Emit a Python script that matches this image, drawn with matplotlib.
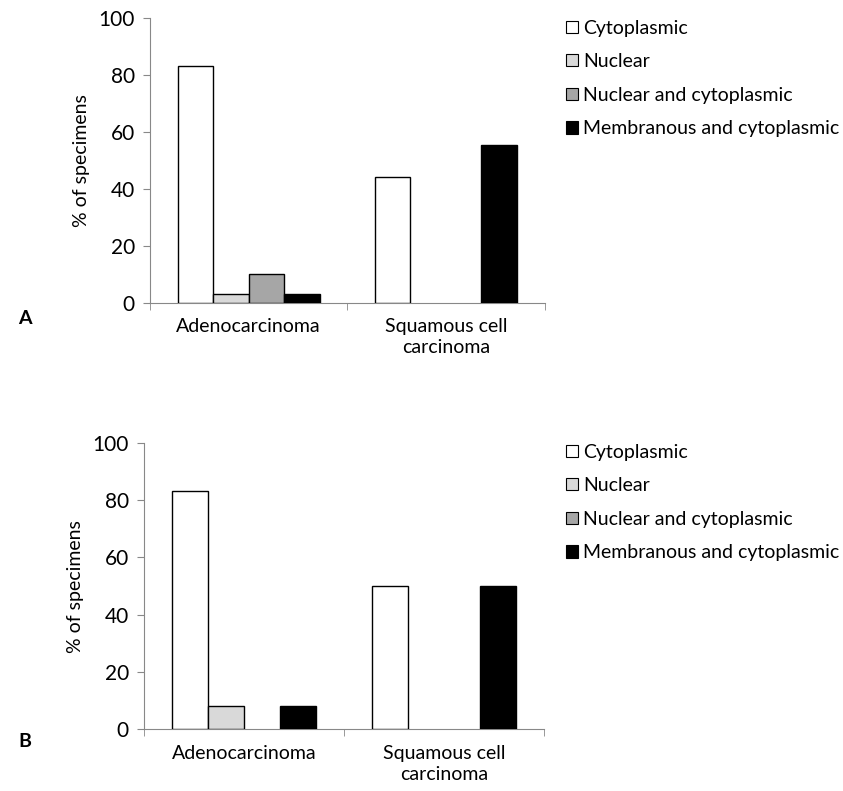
import numpy as np
import matplotlib.pyplot as plt
from matplotlib.patches import Patch

plt.rcParams['font.family'] = ['Lato', 'DejaVu Sans']

categories = ['Adenocarcinoma', 'Squamous cell\ncarcinoma']
series = ['Cytoplasmic', 'Nuclear', 'Nuclear and cytoplasmic', 'Membranous and cytoplasmic']
colors = ['white', '#d9d9d9', '#a6a6a6', 'black']

# panel A values (% of specimens)
a_cyto = [83.3, 44.4]
a_nuc = [3.3, 0]
a_nucyto = [10.0, 0]
a_memb = [3.3, 55.6]

# panel B values
b_cyto = [83.3, 50.0]
b_nuc = [8.3, 0]
b_nucyto = [0, 0]
b_memb = [8.3, 50.0]

fig = plt.figure(figsize=(8.43, 7.91), dpi=100)
axA = fig.add_axes([0.178, 0.617, 0.468, 0.36])
axB = fig.add_axes([0.171, 0.078, 0.474, 0.362])

def draw(ax, data):
    x = np.arange(len(categories)) + 0.5
    w = 0.18
    for i, vals in enumerate(data):
        vals = np.array(vals)
        pos = x + (i - 1.5) * w
        mask = vals > 0
        ax.bar(pos[mask], vals[mask], width=w, color=colors[i],
               edgecolor='black', linewidth=1, zorder=3)
    ax.set_xlim(0, 2)
    ax.set_ylim(0, 100)
    ax.set_yticks([0, 20, 40, 60, 80, 100])
    ax.set_xticks(x)
    ax.set_xticklabels(categories, fontsize=14, linespacing=1.3)
    ax.set_xticks([0, 1, 2], minor=True)
    ax.tick_params(axis='x', which='major', length=0, pad=11)
    ax.tick_params(axis='x', which='minor', length=5, color='#888888')
    ax.tick_params(axis='y', length=5, color='#888888', labelsize=15, pad=6)
    for s in ['top', 'right']:
        ax.spines[s].set_visible(False)
    for s in ['left', 'bottom']:
        ax.spines[s].set_color('#888888')
    ax.set_ylabel('% of specimens', fontsize=14, labelpad=6)

draw(axA, [a_cyto, a_nuc, a_nucyto, a_memb])
draw(axB, [b_cyto, b_nuc, b_nucyto, b_memb])

handles = [Patch(facecolor=c, edgecolor='black', linewidth=0.8) for c in colors]
for y0 in [0.985, 0.449]:
    fig.legend(handles, series, loc='upper left', bbox_to_anchor=(0.662, y0),
               frameon=False, fontsize=14, handlelength=0.6, handleheight=0.6,
               handletextpad=0.3, labelspacing=0.85, borderaxespad=0)

fig.text(0.022, 0.59, 'A', fontsize=14, fontweight='bold')
fig.text(0.022, 0.055, 'B', fontsize=14, fontweight='bold')

plt.savefig('out.png', dpi=100)
